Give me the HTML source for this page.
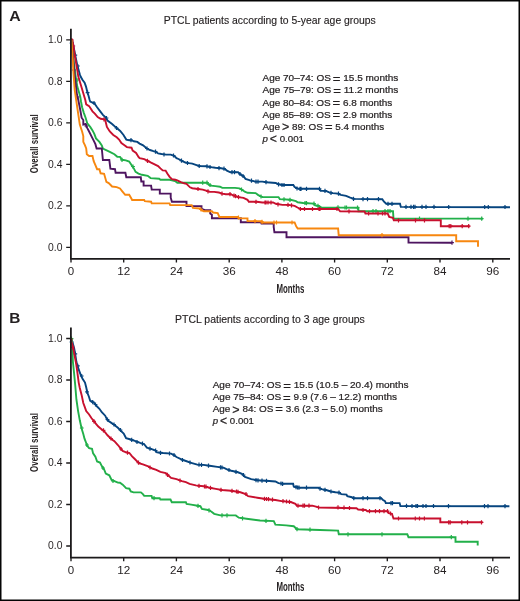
<!DOCTYPE html>
<html><head><meta charset="utf-8"><title>PTCL survival by age group</title>
<style>
html,body{margin:0;padding:0;background:#fff;}
body{width:520px;height:601px;overflow:hidden;position:relative;font-family:"Liberation Sans",sans-serif;}
svg{position:absolute;left:0;top:0;display:block;will-change:transform;}
text{font-family:"Liberation Sans",sans-serif;}
</style></head><body>
<svg width="520" height="601" viewBox="0 0 520 601">
<rect x="0" y="0" width="520" height="601" fill="#fff"/>
<text transform="translate(9.2 21.0) scale(1.06 1)" font-size="15.0" font-weight="bold" fill="#231f20">A</text>
<text x="163.8" y="24.2" font-size="11" fill="#231f20" stroke="#231f20" stroke-width="0.15" textLength="212.0" lengthAdjust="spacingAndGlyphs">PTCL patients according to 5-year age groups</text>
<text x="62.5" y="250.7" font-size="10" fill="#231f20" text-anchor="end" textLength="14.4" lengthAdjust="spacingAndGlyphs">0.0</text>
<text x="62.5" y="209.2" font-size="10" fill="#231f20" text-anchor="end" textLength="14.4" lengthAdjust="spacingAndGlyphs">0.2</text>
<text x="62.5" y="167.7" font-size="10" fill="#231f20" text-anchor="end" textLength="14.4" lengthAdjust="spacingAndGlyphs">0.4</text>
<text x="62.5" y="126.2" font-size="10" fill="#231f20" text-anchor="end" textLength="14.4" lengthAdjust="spacingAndGlyphs">0.6</text>
<text x="62.5" y="84.7" font-size="10" fill="#231f20" text-anchor="end" textLength="14.4" lengthAdjust="spacingAndGlyphs">0.8</text>
<text x="62.5" y="43.2" font-size="10" fill="#231f20" text-anchor="end" textLength="14.4" lengthAdjust="spacingAndGlyphs">1.0</text>
<text x="71.0" y="275.0" font-size="10" fill="#231f20" text-anchor="middle" textLength="6.4" lengthAdjust="spacingAndGlyphs">0</text>
<text x="123.7" y="275.0" font-size="10" fill="#231f20" text-anchor="middle" textLength="13.0" lengthAdjust="spacingAndGlyphs">12</text>
<text x="176.4" y="275.0" font-size="10" fill="#231f20" text-anchor="middle" textLength="13.0" lengthAdjust="spacingAndGlyphs">24</text>
<text x="229.2" y="275.0" font-size="10" fill="#231f20" text-anchor="middle" textLength="13.0" lengthAdjust="spacingAndGlyphs">36</text>
<text x="281.9" y="275.0" font-size="10" fill="#231f20" text-anchor="middle" textLength="13.0" lengthAdjust="spacingAndGlyphs">48</text>
<text x="334.6" y="275.0" font-size="10" fill="#231f20" text-anchor="middle" textLength="13.0" lengthAdjust="spacingAndGlyphs">60</text>
<text x="387.3" y="275.0" font-size="10" fill="#231f20" text-anchor="middle" textLength="13.0" lengthAdjust="spacingAndGlyphs">72</text>
<text x="440.0" y="275.0" font-size="10" fill="#231f20" text-anchor="middle" textLength="13.0" lengthAdjust="spacingAndGlyphs">84</text>
<text x="492.8" y="275.0" font-size="10" fill="#231f20" text-anchor="middle" textLength="13.0" lengthAdjust="spacingAndGlyphs">96</text>
<text x="276.5" y="292.7" font-size="12.2" font-weight="bold" fill="#231f20" textLength="27.9" lengthAdjust="spacingAndGlyphs">Months</text>
<text transform="translate(38.4 173.2) rotate(-90)" x="0" y="0" font-size="11.8" font-weight="bold" fill="#231f20" textLength="58.8" lengthAdjust="spacingAndGlyphs">Overall survival</text>
<text x="262.5" y="81.3" font-size="9.5" fill="#231f20" stroke="#231f20" stroke-width="0.22" textLength="135.8" lengthAdjust="spacingAndGlyphs">Age 70&#8211;74: OS&#8201;<tspan font-size="12.5" dy="1.4">=</tspan><tspan dy="-1.4"> </tspan>15.5 months</text>
<text x="262.5" y="93.4" font-size="9.5" fill="#231f20" stroke="#231f20" stroke-width="0.22" textLength="135.8" lengthAdjust="spacingAndGlyphs">Age 75&#8211;79: OS&#8201;<tspan font-size="12.5" dy="1.4">=</tspan><tspan dy="-1.4"> </tspan>11.2 months</text>
<text x="262.5" y="105.5" font-size="9.5" fill="#231f20" stroke="#231f20" stroke-width="0.22" textLength="129.8" lengthAdjust="spacingAndGlyphs">Age 80&#8211;84: OS&#8201;<tspan font-size="12.5" dy="1.4">=</tspan><tspan dy="-1.4"> </tspan>6.8 months</text>
<text x="262.5" y="117.6" font-size="9.5" fill="#231f20" stroke="#231f20" stroke-width="0.22" textLength="129.8" lengthAdjust="spacingAndGlyphs">Age 85&#8211;89: OS&#8201;<tspan font-size="12.5" dy="1.4">=</tspan><tspan dy="-1.4"> </tspan>2.9 months</text>
<text x="262.5" y="129.7" font-size="9.5" fill="#231f20" stroke="#231f20" stroke-width="0.22" textLength="121.7" lengthAdjust="spacingAndGlyphs">Age&#8201;<tspan font-size="12" dy="1.5">&gt;</tspan><tspan dy="-1.5"> </tspan>89: OS&#8201;<tspan font-size="12.5" dy="1.4">=</tspan><tspan dy="-1.4"> </tspan>5.4 months</text>
<text x="262.5" y="141.8" font-size="9.5" fill="#231f20" stroke="#231f20" stroke-width="0.22" textLength="41.5" lengthAdjust="spacingAndGlyphs"><tspan font-style="italic">p</tspan>&#8201;<tspan font-size="12" dy="1.2">&lt;</tspan><tspan dy="-1.2"> </tspan>0.001</text>
<text x="9.3" y="322.8" font-size="15.4" font-weight="bold" fill="#231f20">B</text>
<text x="175.1" y="322.9" font-size="11" fill="#231f20" stroke="#231f20" stroke-width="0.15" textLength="189.7" lengthAdjust="spacingAndGlyphs">PTCL patients according to 3 age groups</text>
<text x="62.5" y="549.4" font-size="10" fill="#231f20" text-anchor="end" textLength="14.4" lengthAdjust="spacingAndGlyphs">0.0</text>
<text x="62.5" y="507.9" font-size="10" fill="#231f20" text-anchor="end" textLength="14.4" lengthAdjust="spacingAndGlyphs">0.2</text>
<text x="62.5" y="466.4" font-size="10" fill="#231f20" text-anchor="end" textLength="14.4" lengthAdjust="spacingAndGlyphs">0.4</text>
<text x="62.5" y="424.9" font-size="10" fill="#231f20" text-anchor="end" textLength="14.4" lengthAdjust="spacingAndGlyphs">0.6</text>
<text x="62.5" y="383.4" font-size="10" fill="#231f20" text-anchor="end" textLength="14.4" lengthAdjust="spacingAndGlyphs">0.8</text>
<text x="62.5" y="341.9" font-size="10" fill="#231f20" text-anchor="end" textLength="14.4" lengthAdjust="spacingAndGlyphs">1.0</text>
<text x="71.0" y="573.7" font-size="10" fill="#231f20" text-anchor="middle" textLength="6.4" lengthAdjust="spacingAndGlyphs">0</text>
<text x="123.7" y="573.7" font-size="10" fill="#231f20" text-anchor="middle" textLength="13.0" lengthAdjust="spacingAndGlyphs">12</text>
<text x="176.4" y="573.7" font-size="10" fill="#231f20" text-anchor="middle" textLength="13.0" lengthAdjust="spacingAndGlyphs">24</text>
<text x="229.2" y="573.7" font-size="10" fill="#231f20" text-anchor="middle" textLength="13.0" lengthAdjust="spacingAndGlyphs">36</text>
<text x="281.9" y="573.7" font-size="10" fill="#231f20" text-anchor="middle" textLength="13.0" lengthAdjust="spacingAndGlyphs">48</text>
<text x="334.6" y="573.7" font-size="10" fill="#231f20" text-anchor="middle" textLength="13.0" lengthAdjust="spacingAndGlyphs">60</text>
<text x="387.3" y="573.7" font-size="10" fill="#231f20" text-anchor="middle" textLength="13.0" lengthAdjust="spacingAndGlyphs">72</text>
<text x="440.0" y="573.7" font-size="10" fill="#231f20" text-anchor="middle" textLength="13.0" lengthAdjust="spacingAndGlyphs">84</text>
<text x="492.8" y="573.7" font-size="10" fill="#231f20" text-anchor="middle" textLength="13.0" lengthAdjust="spacingAndGlyphs">96</text>
<text x="276.5" y="591.4" font-size="12.2" font-weight="bold" fill="#231f20" textLength="27.9" lengthAdjust="spacingAndGlyphs">Months</text>
<text transform="translate(38.4 471.9) rotate(-90)" x="0" y="0" font-size="11.8" font-weight="bold" fill="#231f20" textLength="58.8" lengthAdjust="spacingAndGlyphs">Overall survival</text>
<text x="212.7" y="388.3" font-size="9.5" fill="#231f20" stroke="#231f20" stroke-width="0.22" textLength="195.8" lengthAdjust="spacingAndGlyphs">Age 70&#8211;74: OS&#8201;<tspan font-size="12.5" dy="1.4">=</tspan><tspan dy="-1.4"> </tspan>15.5 (10.5 &#8211; 20.4) months</text>
<text x="212.7" y="400.2" font-size="9.5" fill="#231f20" stroke="#231f20" stroke-width="0.22" textLength="184.3" lengthAdjust="spacingAndGlyphs">Age 75&#8211;84: OS&#8201;<tspan font-size="12.5" dy="1.4">=</tspan><tspan dy="-1.4"> </tspan>9.9 (7.6 &#8211; 12.2) months</text>
<text x="212.7" y="412.0" font-size="9.5" fill="#231f20" stroke="#231f20" stroke-width="0.22" textLength="170.0" lengthAdjust="spacingAndGlyphs">Age&#8201;<tspan font-size="12" dy="1.5">&gt;</tspan><tspan dy="-1.5"> </tspan>84: OS&#8201;<tspan font-size="12.5" dy="1.4">=</tspan><tspan dy="-1.4"> </tspan>3.6 (2.3 &#8211; 5.0) months</text>
<text x="212.7" y="423.9" font-size="9.5" fill="#231f20" stroke="#231f20" stroke-width="0.22" textLength="41.3" lengthAdjust="spacingAndGlyphs"><tspan font-style="italic">p</tspan>&#8201;<tspan font-size="12" dy="1.2">&lt;</tspan><tspan dy="-1.2"> </tspan>0.001</text>
<polyline points="71.6,39.8 72.9,43.1 75.2,55.2 77.5,66.1 79.8,74.2 80.6,76.6 82.6,80.0 84.6,82.6 86.0,86.6 87.3,92.0 88.6,96.0 89.5,99.5 90.2,101.5 94.3,103.3 97.1,107.3 100.6,111.9 102.9,114.8 105.8,117.7 107.5,120.6 112.1,124.0 116.7,128.1 120.2,131.0 123.5,135.0 126.3,139.6 129.2,140.2 131.5,140.2 133.8,141.3 137.3,141.9 139.6,143.6 143.1,145.4 146.5,148.3 150.0,150.0 153.4,151.1 155.8,151.7 158.1,153.4 161.5,154.0 166.1,154.6 170.7,154.6 174.2,155.8 176.5,158.1 178.5,159.0 181.9,160.8 185.4,162.5 188.8,163.1 192.3,163.6 195.8,164.8 199.2,166.0 206.1,166.3 210.8,167.1 215.4,167.7 221.1,168.3 224.6,168.8 226.9,170.6 230.4,172.3 238.1,172.2 240.1,174.2 243.5,176.2 245.5,178.9 250.2,180.3 255.6,181.6 262.3,181.6 266.3,182.3 275.8,183.0 278.5,184.3 282.5,185.0 293.3,185.0 294.6,187.0 298.6,188.8 319.2,188.8 320.6,190.9 326.0,190.9 328.6,192.2 332.7,193.1 338.1,193.6 340.8,194.9 346.1,195.8 350.2,197.6 354.2,198.9 382.3,199.2 383.8,201.5 386.2,203.8 400.0,203.8 400.8,206.9 440.0,207.1 510.0,207.2" fill="none" stroke="#07457f" stroke-width="1.9" stroke-linejoin="miter" stroke-linecap="butt"/>
<path d="M71.6 41.0v4.2M69.7 43.1h3.8M75.3 53.1v4.2M73.4 55.2h3.8M77.8 63.9v4.2M75.9 66.0h3.8M87.6 90.5v4.2M85.7 92.6h3.8M94.0 100.9v4.2M92.1 103.0h3.8M106.5 115.9v4.2M104.6 118.0h3.8M116.5 125.9v4.2M114.6 128.0h3.8M131.0 138.1v4.2M129.1 140.2h3.8M147.0 146.4v4.2M145.1 148.5h3.8M155.5 149.6v4.2M153.6 151.7h3.8M164.0 152.4v4.2M162.1 154.5h3.8M173.5 153.4v4.2M171.6 155.5h3.8M181.5 158.5v4.2M179.6 160.6h3.8M187.5 160.9v4.2M185.6 163.0h3.8M199.2 163.9v4.2M197.3 166.0h3.8M207.0 164.3v4.2M205.1 166.4h3.8M210.0 164.9v4.2M208.1 167.0h3.8M219.0 166.0v4.2M217.1 168.1h3.8M224.0 166.6v4.2M222.1 168.7h3.8M232.0 170.1v4.2M230.1 172.2h3.8M234.5 170.1v4.2M232.6 172.2h3.8M240.0 171.9v4.2M238.1 174.0h3.8M243.0 173.9v4.2M241.1 176.0h3.8M251.5 178.5v4.2M249.6 180.6h3.8M256.0 179.5v4.2M254.1 181.6h3.8M258.0 179.5v4.2M256.1 181.6h3.8M266.0 180.1v4.2M264.1 182.2h3.8M278.5 182.2v4.2M276.6 184.3h3.8M282.0 182.9v4.2M280.1 185.0h3.8M284.0 182.9v4.2M282.1 185.0h3.8M297.0 186.4v4.2M295.1 188.5h3.8M300.0 186.7v4.2M298.1 188.8h3.8M301.0 186.7v4.2M299.1 188.8h3.8M306.5 186.7v4.2M304.6 188.8h3.8M319.5 186.7v4.2M317.6 188.8h3.8M325.0 188.8v4.2M323.1 190.9h3.8M331.0 190.7v4.2M329.1 192.8h3.8M338.5 191.5v4.2M336.6 193.6h3.8M353.5 196.8v4.2M351.6 198.9h3.8M363.0 197.1v4.2M361.1 199.2h3.8M367.5 197.1v4.2M365.6 199.2h3.8M378.5 197.1v4.2M376.6 199.2h3.8M388.0 201.7v4.2M386.1 203.8h3.8M392.0 201.7v4.2M390.1 203.8h3.8M406.0 204.8v4.2M404.1 206.9h3.8M411.0 204.8v4.2M409.1 206.9h3.8M413.5 204.8v4.2M411.6 206.9h3.8M415.0 204.8v4.2M413.1 206.9h3.8M422.0 204.8v4.2M420.1 206.9h3.8M426.0 204.8v4.2M424.1 206.9h3.8M434.0 204.8v4.2M432.1 206.9h3.8M448.7 204.9v4.2M446.8 207.0h3.8M484.7 204.9v4.2M482.8 207.0h3.8M488.3 204.9v4.2M486.4 207.0h3.8M505.0 204.9v4.2M503.1 207.0h3.8" stroke="#07457f" stroke-width="1.2" fill="none"/>
<polyline points="71.6,39.8 72.3,46.5 74.0,63.8 75.7,76.6 77.3,86.6 79.3,93.3 80.3,97.0 81.0,101.5 82.1,107.3 83.9,113.1 85.6,117.7 87.3,123.4 90.2,126.9 92.5,130.4 94.3,133.8 96.0,138.4 99.4,141.9 101.8,145.4 102.9,148.5 109.8,151.9 114.4,154.2 117.3,156.8 120.0,156.9 121.2,158.6 122.3,159.8 125.8,160.4 129.2,161.5 131.5,165.0 133.8,168.4 135.6,171.9 138.5,173.6 141.9,174.8 147.7,175.8 150.6,178.1 159.2,178.7 160.4,179.8 169.6,179.8 171.9,180.4 175.0,181.0 177.3,182.7 207.3,182.7 208.4,184.4 210.8,185.6 215.4,186.1 220.0,186.7 222.3,187.9 235.0,187.9 239.4,188.4 242.1,189.7 244.8,191.7 247.5,192.8 255.6,193.1 258.3,195.1 262.3,197.1 278.5,197.1 279.8,199.1 290.6,199.8 295.9,201.1 297.7,202.3 303.1,203.0 313.8,203.6 315.2,205.3 319.2,206.1 321.2,207.4 358.3,207.7 358.5,211.2 393.0,211.2 393.5,218.5 483.0,218.6" fill="none" stroke="#22b04a" stroke-width="1.9" stroke-linejoin="miter" stroke-linecap="butt"/>
<path d="M77.0 77.9v4.2M75.1 80.0h3.8M122.0 157.7v4.2M120.1 159.8h3.8M133.0 164.4v4.2M131.1 166.5h3.8M202.7 180.6v4.2M200.8 182.7h3.8M207.0 180.6v4.2M205.1 182.7h3.8M210.0 182.9v4.2M208.1 185.0h3.8M241.5 187.4v4.2M239.6 189.5h3.8M261.0 194.4v4.2M259.1 196.5h3.8M284.0 197.3v4.2M282.1 199.4h3.8M290.0 197.7v4.2M288.1 199.8h3.8M305.0 200.9v4.2M303.1 203.0h3.8M306.5 201.0v4.2M304.6 203.1h3.8M314.0 201.5v4.2M312.1 203.6h3.8M318.0 203.8v4.2M316.1 205.9h3.8M338.0 205.3v4.2M336.1 207.4h3.8M345.0 205.4v4.2M343.1 207.5h3.8M346.5 205.4v4.2M344.6 207.5h3.8M357.5 205.6v4.2M355.6 207.7h3.8M373.0 209.1v4.2M371.1 211.2h3.8M376.0 209.1v4.2M374.1 211.2h3.8M385.0 209.1v4.2M383.1 211.2h3.8M388.0 209.1v4.2M386.1 211.2h3.8M390.0 209.1v4.2M388.1 211.2h3.8M419.5 216.4v4.2M417.6 218.5h3.8M468.0 216.5v4.2M466.1 218.6h3.8M481.7 216.5v4.2M479.8 218.6h3.8" stroke="#22b04a" stroke-width="1.2" fill="none"/>
<polyline points="71.6,39.8 72.3,40.2 73.5,46.5 75.2,58.0 76.7,66.7 78.3,76.6 81.3,86.6 83.3,93.3 85.3,100.0 85.8,102.5 86.2,104.4 89.1,106.1 92.5,111.3 94.8,113.6 97.7,117.1 100.6,118.8 104.1,119.4 105.2,120.0 106.9,126.9 109.8,131.5 113.3,135.0 116.7,137.3 119.1,139.6 121.4,143.1 124.8,145.4 126.9,147.1 131.5,147.7 132.7,150.6 136.1,152.9 138.5,156.9 139.6,158.1 144.2,159.2 147.7,160.9 151.1,162.7 154.6,164.4 158.1,166.1 160.4,168.4 162.7,170.4 165.6,170.6 167.3,173.5 169.6,176.9 171.9,179.2 175.4,179.8 177.3,180.4 180.8,182.1 184.2,183.3 186.5,183.8 190.0,187.3 192.3,188.2 198.1,189.0 202.7,189.6 206.1,190.7 209.6,191.9 214.2,191.9 218.8,192.5 222.3,193.6 225.7,194.2 230.4,194.2 232.7,195.1 238.1,197.1 243.5,197.8 247.5,199.8 248.8,201.8 256.9,201.8 262.3,202.5 273.1,202.5 275.8,203.8 282.5,204.9 287.9,204.9 294.6,205.9 297.5,207.5 300.4,209.0 338.1,209.0 340.1,211.3 364.6,211.5 365.4,213.5 387.7,213.5 389.2,216.9 393.0,217.7 393.8,220.3 440.8,220.3 440.8,226.2 469.7,226.2" fill="none" stroke="#c8102e" stroke-width="1.9" stroke-linejoin="miter" stroke-linecap="butt"/>
<path d="M71.8 37.9v4.2M69.9 40.0h3.8M73.3 43.9v4.2M71.4 46.0h3.8M104.0 117.3v4.2M102.1 119.4h3.8M147.5 158.7v4.2M145.6 160.8h3.8M198.0 186.9v4.2M196.1 189.0h3.8M208.0 189.2v4.2M206.1 191.3h3.8M222.0 191.5v4.2M220.1 193.6h3.8M230.0 192.1v4.2M228.1 194.2h3.8M234.0 193.6v4.2M232.1 195.7h3.8M235.5 194.1v4.2M233.6 196.2h3.8M238.5 195.0v4.2M236.6 197.1h3.8M256.0 199.7v4.2M254.1 201.8h3.8M265.0 200.4v4.2M263.1 202.5h3.8M266.0 200.4v4.2M264.1 202.5h3.8M268.0 200.4v4.2M266.1 202.5h3.8M271.0 200.4v4.2M269.1 202.5h3.8M278.0 202.2v4.2M276.1 204.3h3.8M288.0 202.8v4.2M286.1 204.9h3.8M291.5 203.3v4.2M289.6 205.4h3.8M300.4 206.9v4.2M298.5 209.0h3.8M304.5 206.9v4.2M302.6 209.0h3.8M312.5 206.9v4.2M310.6 209.0h3.8M319.0 206.9v4.2M317.1 209.0h3.8M320.0 206.9v4.2M318.1 209.0h3.8M337.0 206.9v4.2M335.1 209.0h3.8M349.0 209.2v4.2M347.1 211.3h3.8M368.6 211.4v4.2M366.7 213.5h3.8M378.0 211.4v4.2M376.1 213.5h3.8M382.5 211.4v4.2M380.6 213.5h3.8M385.0 211.4v4.2M383.1 213.5h3.8M398.5 218.2v4.2M396.6 220.3h3.8M415.5 218.2v4.2M413.6 220.3h3.8M424.5 218.2v4.2M422.6 220.3h3.8M449.2 224.1v4.2M447.3 226.2h3.8M450.8 224.1v4.2M448.9 226.2h3.8M462.2 224.1v4.2M460.3 226.2h3.8M468.7 224.1v4.2M466.8 226.2h3.8" stroke="#c8102e" stroke-width="1.2" fill="none"/>
<polyline points="71.6,39.8 72.4,52.3 74.7,75.4 77.0,95.0 78.1,99.2 79.3,105.0 80.4,110.8 81.6,117.7 83.3,120.0 83.3,124.6 85.6,124.0 87.3,128.1 89.1,131.5 91.4,136.1 93.7,140.7 95.4,144.2 96.6,148.5 101.8,148.5 102.9,160.0 109.3,160.0 110.4,168.6 115.0,169.2 115.6,172.7 125.4,172.7 126.3,177.2 140.8,177.2 141.3,181.5 143.6,181.5 143.6,185.6 151.1,185.6 151.7,189.6 159.8,189.6 159.8,193.6 170.7,193.6 170.7,197.7 171.9,201.7 186.5,201.8 186.5,206.1 201.5,206.1 201.5,209.0 205.0,210.2 210.2,210.2 210.2,213.6 211.9,214.8 211.9,218.3 240.8,218.3 240.8,222.2 261.0,222.2 261.5,223.5 273.7,223.5 273.7,226.9 274.4,232.3 286.5,232.3 286.5,237.2 408.5,237.2 408.5,242.5 452.0,242.7" fill="none" stroke="#4e1560" stroke-width="1.9" stroke-linejoin="miter" stroke-linecap="butt"/>
<path d="M74.0 67.9v4.2M72.1 70.0h3.8M77.5 94.9v4.2M75.6 97.0h3.8M86.3 123.9v4.2M84.4 126.0h3.8M452.0 240.6v4.2M450.1 242.7h3.8" stroke="#4e1560" stroke-width="1.2" fill="none"/>
<polyline points="71.6,39.8 72.1,50.0 72.9,62.0 73.4,72.0 74.7,90.0 76.4,101.5 78.1,113.1 79.8,124.6 82.1,131.5 83.3,136.1 83.3,141.9 85.0,145.4 86.2,148.5 86.8,154.2 89.1,156.0 92.5,156.0 93.7,161.1 95.4,165.2 97.1,169.2 99.4,169.2 100.6,173.3 104.1,173.8 106.4,181.9 108.7,183.1 112.1,186.5 116.7,187.1 120.0,188.5 122.3,191.3 125.2,194.8 129.2,194.8 131.5,198.8 132.1,200.0 144.2,200.0 144.8,201.1 151.1,201.7 151.7,203.4 169.6,203.4 170.2,205.1 191.7,205.1 192.9,207.9 199.8,208.5 201.5,210.2 203.8,211.3 211.9,211.3 213.1,212.5 217.7,213.1 219.4,217.0 237.4,217.0 238.8,218.4 247.5,218.4 247.5,221.0 261.6,221.2 262.3,222.5 294.6,222.5 296.2,226.4 297.7,228.5 338.1,228.5 338.7,235.2 456.2,235.2 456.2,241.3 478.0,241.3 478.0,246.7" fill="none" stroke="#f7870f" stroke-width="1.9" stroke-linejoin="miter" stroke-linecap="butt"/>
<path d="M201.0 207.4v4.2M199.1 209.5h3.8M238.5 215.4v4.2M236.6 217.5h3.8M255.0 219.0v4.2M253.1 221.1h3.8M262.0 219.7v4.2M260.1 221.8h3.8M274.0 220.4v4.2M272.1 222.5h3.8M276.5 220.4v4.2M274.6 222.5h3.8M292.0 220.4v4.2M290.1 222.5h3.8M382.0 233.1v4.2M380.1 235.2h3.8" stroke="#f7870f" stroke-width="1.2" fill="none"/>
<polyline points="71.6,338.3 71.2,339.3 72.3,341.7 74.1,348.0 75.2,353.8 76.4,361.8 77.5,365.9 79.3,371.1 81.0,375.7 82.7,379.1 85.0,382.6 86.2,387.2 87.3,392.6 89.1,397.2 90.2,400.7 93.7,402.4 97.1,406.5 99.4,408.8 101.8,412.2 105.2,415.7 107.5,420.3 111.0,422.6 114.4,424.9 117.9,427.8 121.4,431.3 123.7,433.6 126.1,438.2 130.8,439.5 134.8,440.9 140.2,442.9 144.2,444.2 146.9,447.6 151.0,448.9 155.0,450.3 157.0,452.3 163.1,453.0 171.1,453.6 173.8,455.0 176.5,457.0 181.9,459.7 185.9,461.0 191.2,462.8 197.3,464.6 203.5,464.9 209.6,465.8 217.3,466.9 223.5,467.7 226.5,469.2 231.2,470.8 237.3,472.0 241.9,473.8 245.0,476.9 251.2,479.2 257.3,480.3 266.2,480.8 275.4,481.5 278.5,483.1 283.1,483.8 293.1,483.8 293.8,486.6 300.0,487.7 318.5,487.7 321.5,489.2 326.2,490.0 330.8,491.5 335.4,492.3 339.6,492.6 341.2,494.2 346.5,494.6 347.3,496.2 351.9,497.2 353.5,498.2 381.2,498.2 382.7,499.7 385.0,501.2 385.8,503.1 399.6,503.1 400.4,506.0 509.4,506.2" fill="none" stroke="#07457f" stroke-width="1.9" stroke-linejoin="miter" stroke-linecap="butt"/>
<path d="M71.5 339.9v4.2M69.6 342.0h3.8M75.3 351.7v4.2M73.4 353.8h3.8M77.8 363.7v4.2M75.9 365.8h3.8M81.7 373.9v4.2M79.8 376.0h3.8M87.0 389.7v4.2M85.1 391.8h3.8M92.7 400.1v4.2M90.8 402.2h3.8M95.5 402.4v4.2M93.6 404.5h3.8M107.5 417.4v4.2M105.6 419.5h3.8M114.0 422.4v4.2M112.1 424.5h3.8M120.5 427.9v4.2M118.6 430.0h3.8M131.7 437.7v4.2M129.8 439.8h3.8M137.0 439.9v4.2M135.1 442.0h3.8M142.5 441.6v4.2M140.6 443.7h3.8M150.0 446.6v4.2M148.1 448.7h3.8M155.6 448.4v4.2M153.7 450.5h3.8M160.5 450.7v4.2M158.6 452.8h3.8M169.5 451.4v4.2M167.6 453.5h3.8M174.0 452.9v4.2M172.1 455.0h3.8M182.5 457.9v4.2M180.6 460.0h3.8M190.0 460.4v4.2M188.1 462.5h3.8M199.0 462.6v4.2M197.1 464.7h3.8M201.5 462.7v4.2M199.6 464.8h3.8M208.5 463.5v4.2M206.6 465.6h3.8M220.5 465.2v4.2M218.6 467.3h3.8M222.0 465.4v4.2M220.1 467.5h3.8M229.0 467.9v4.2M227.1 470.0h3.8M236.0 469.7v4.2M234.1 471.8h3.8M243.5 472.9v4.2M241.6 475.0h3.8M256.0 478.1v4.2M254.1 480.2h3.8M258.0 478.2v4.2M256.1 480.3h3.8M262.0 478.5v4.2M260.1 480.6h3.8M266.5 478.7v4.2M264.6 480.8h3.8M281.0 481.4v4.2M279.1 483.5h3.8M282.6 481.7v4.2M280.7 483.8h3.8M296.0 485.1v4.2M294.1 487.2h3.8M297.5 485.4v4.2M295.6 487.5h3.8M299.0 485.6v4.2M297.1 487.7h3.8M306.5 485.6v4.2M304.6 487.7h3.8M320.0 486.6v4.2M318.1 488.7h3.8M325.0 487.7v4.2M323.1 489.8h3.8M331.0 489.4v4.2M329.1 491.5h3.8M339.0 490.5v4.2M337.1 492.6h3.8M353.8 496.1v4.2M351.9 498.2h3.8M363.0 496.1v4.2M361.1 498.2h3.8M367.5 496.1v4.2M365.6 498.2h3.8M380.0 496.1v4.2M378.1 498.2h3.8M391.0 501.0v4.2M389.1 503.1h3.8M392.5 501.0v4.2M390.6 503.1h3.8M406.5 503.8v4.2M404.6 505.9h3.8M412.0 503.9v4.2M410.1 506.0h3.8M416.0 503.9v4.2M414.1 506.0h3.8M417.5 503.9v4.2M415.6 506.0h3.8M423.0 503.9v4.2M421.1 506.0h3.8M426.0 503.9v4.2M424.1 506.0h3.8M433.5 503.9v4.2M431.6 506.0h3.8M448.5 504.0v4.2M446.6 506.1h3.8M484.5 504.0v4.2M482.6 506.1h3.8M488.0 504.0v4.2M486.1 506.1h3.8M505.0 504.1v4.2M503.1 506.2h3.8" stroke="#07457f" stroke-width="1.2" fill="none"/>
<polyline points="71.6,338.3 72.2,344.5 72.9,361.8 74.1,373.4 75.2,384.9 76.4,399.5 78.1,411.1 79.8,420.3 81.6,428.4 83.3,434.1 84.5,438.7 86.2,443.0 86.8,445.3 89.1,448.2 92.0,448.8 93.1,453.4 95.4,456.8 97.1,461.5 100.0,462.6 101.8,466.1 104.1,469.5 105.8,473.6 109.3,475.3 111.6,479.9 114.4,481.1 117.9,482.6 120.0,482.7 122.7,484.7 126.1,488.1 129.4,488.7 130.8,491.4 133.5,492.4 140.9,492.4 142.9,494.1 144.2,495.9 151.6,495.9 152.3,498.2 159.7,498.2 160.4,499.5 170.5,499.5 171.8,502.2 185.9,502.2 186.6,504.0 191.2,504.6 200.4,506.2 201.9,508.9 208.1,510.0 211.2,511.5 214.2,513.8 220.4,515.4 235.8,515.4 238.8,517.7 246.5,518.8 260.0,520.5 273.8,521.1 275.4,524.6 286.2,525.4 293.8,526.2 296.9,529.2 320.0,530.0 338.1,530.6 338.8,534.3 407.3,534.3 408.5,537.2 455.5,537.3 455.5,541.8 477.7,541.8 477.7,545.6" fill="none" stroke="#22b04a" stroke-width="1.9" stroke-linejoin="miter" stroke-linecap="butt"/>
<path d="M71.5 336.6v4.2M69.6 338.7h3.8M81.8 425.9v4.2M79.9 428.0h3.8M87.0 442.9v4.2M85.1 445.0h3.8M103.0 465.9v4.2M101.1 468.0h3.8M113.0 478.9v4.2M111.1 481.0h3.8M154.0 496.1v4.2M152.1 498.2h3.8M198.0 503.8v4.2M196.1 505.9h3.8M209.0 508.2v4.2M207.1 510.3h3.8M222.0 513.3v4.2M220.1 515.4h3.8M227.0 513.3v4.2M225.1 515.4h3.8M242.5 516.2v4.2M240.6 518.3h3.8M266.0 518.7v4.2M264.1 520.8h3.8M297.0 527.1v4.2M295.1 529.2h3.8M310.0 527.6v4.2M308.1 529.7h3.8M348.0 532.2v4.2M346.1 534.3h3.8M382.0 532.2v4.2M380.1 534.3h3.8M451.3 535.0v4.2M449.4 537.1h3.8" stroke="#22b04a" stroke-width="1.2" fill="none"/>
<polyline points="71.6,338.3 71.2,341.1 73.0,346.8 74.7,356.1 76.4,365.3 77.5,373.4 78.7,382.6 79.8,388.0 81.6,394.9 83.3,403.0 85.0,407.6 86.2,411.1 89.1,414.5 91.4,418.0 93.7,420.9 96.0,423.8 98.3,426.6 101.8,429.5 105.2,432.4 107.5,435.3 111.0,438.7 114.4,441.1 117.9,445.0 120.0,447.6 122.7,451.0 126.1,452.3 129.4,453.0 132.1,456.3 134.8,459.0 138.8,463.1 142.9,464.4 148.3,466.4 152.3,468.5 156.3,469.8 160.4,471.8 165.8,473.2 171.1,477.9 176.5,479.2 181.9,481.2 185.9,482.2 189.6,483.8 195.8,485.4 203.5,486.2 209.6,487.7 215.8,488.9 221.9,490.0 231.2,490.8 240.4,492.3 245.0,493.8 248.1,496.2 257.3,497.7 267.7,499.2 275.4,500.0 281.5,501.1 290.8,502.0 295.4,503.8 296.9,505.7 312.3,505.7 316.9,506.9 319.2,507.5 356.5,508.3 358.1,509.5 365.8,510.0 367.3,511.2 387.3,511.2 388.8,513.1 391.9,513.8 393.5,518.5 440.3,518.5 440.3,522.3 482.6,522.3" fill="none" stroke="#c8102e" stroke-width="1.9" stroke-linejoin="miter" stroke-linecap="butt"/>
<path d="M72.5 345.2v4.2M70.6 347.3h3.8M94.0 419.2v4.2M92.1 421.3h3.8M103.5 428.3v4.2M101.6 430.4h3.8M111.0 436.4v4.2M109.1 438.5h3.8M121.0 446.9v4.2M119.1 449.0h3.8M127.5 450.6v4.2M125.6 452.7h3.8M138.5 460.6v4.2M136.6 462.7h3.8M150.0 465.4v4.2M148.1 467.5h3.8M167.5 472.7v4.2M165.6 474.8h3.8M180.0 478.4v4.2M178.1 480.5h3.8M199.0 483.7v4.2M197.1 485.8h3.8M204.5 484.4v4.2M202.6 486.5h3.8M206.0 484.6v4.2M204.1 486.7h3.8M210.5 485.7v4.2M208.6 487.8h3.8M221.0 487.7v4.2M219.1 489.8h3.8M232.0 488.8v4.2M230.1 490.9h3.8M236.5 489.4v4.2M234.6 491.5h3.8M238.0 489.7v4.2M236.1 491.8h3.8M246.0 491.9v4.2M244.1 494.0h3.8M264.5 496.7v4.2M262.6 498.8h3.8M266.5 496.9v4.2M264.6 499.0h3.8M268.5 497.1v4.2M266.6 499.2h3.8M272.5 497.5v4.2M270.6 499.6h3.8M283.0 499.1v4.2M281.1 501.2h3.8M286.5 499.4v4.2M284.6 501.5h3.8M289.5 499.7v4.2M287.6 501.8h3.8M298.0 503.6v4.2M296.1 505.7h3.8M303.0 503.6v4.2M301.1 505.7h3.8M304.5 503.6v4.2M302.6 505.7h3.8M309.0 503.6v4.2M307.1 505.7h3.8M318.5 505.4v4.2M316.6 507.5h3.8M338.0 505.3v4.2M336.1 507.4h3.8M344.0 505.6v4.2M342.1 507.7h3.8M349.5 505.9v4.2M347.6 508.0h3.8M363.0 507.9v4.2M361.1 510.0h3.8M369.5 509.1v4.2M367.6 511.2h3.8M375.5 509.1v4.2M373.6 511.2h3.8M379.5 509.1v4.2M377.6 511.2h3.8M384.0 509.1v4.2M382.1 511.2h3.8M387.5 509.1v4.2M385.6 511.2h3.8M390.5 511.4v4.2M388.6 513.5h3.8M398.5 516.4v4.2M396.6 518.5h3.8M415.3 516.4v4.2M413.4 518.5h3.8M419.5 516.4v4.2M417.6 518.5h3.8M424.4 516.4v4.2M422.5 518.5h3.8M448.7 520.2v4.2M446.8 522.3h3.8M450.2 520.2v4.2M448.3 522.3h3.8M461.8 520.2v4.2M459.9 522.3h3.8M467.5 520.2v4.2M465.6 522.3h3.8M481.5 520.2v4.2M479.6 522.3h3.8" stroke="#c8102e" stroke-width="1.2" fill="none"/>
<path d="M70.9 28.8V259.80M70 258.95H510" stroke="#1c1a1b" stroke-width="1.8" fill="none"/>
<path d="M66.2 247.3H70.5M66.2 205.8H70.5M66.2 164.3H70.5M66.2 122.8H70.5M66.2 81.3H70.5M66.2 39.8H70.5M71.0 258.95V262.6M123.7 258.95V262.6M176.4 258.95V262.6M229.2 258.95V262.6M281.9 258.95V262.6M334.6 258.95V262.6M387.3 258.95V262.6M440.0 258.95V262.6M492.8 258.95V262.6" stroke="#1c1a1b" stroke-width="1.35" fill="none"/>
<path d="M70.9 327.5V558.50M70 557.65H510" stroke="#1c1a1b" stroke-width="1.8" fill="none"/>
<path d="M66.2 546.0H70.5M66.2 504.5H70.5M66.2 463.0H70.5M66.2 421.5H70.5M66.2 380.0H70.5M66.2 338.5H70.5M71.0 557.65V561.2M123.7 557.65V561.2M176.4 557.65V561.2M229.2 557.65V561.2M281.9 557.65V561.2M334.6 557.65V561.2M387.3 557.65V561.2M440.0 557.65V561.2M492.8 557.65V561.2" stroke="#1c1a1b" stroke-width="1.35" fill="none"/>
<path d="M0 0H520V601H0Z M1.5 1.4V599.4H518.5V1.4Z" fill="#050505" fill-rule="evenodd"/>
</svg>
</body></html>
